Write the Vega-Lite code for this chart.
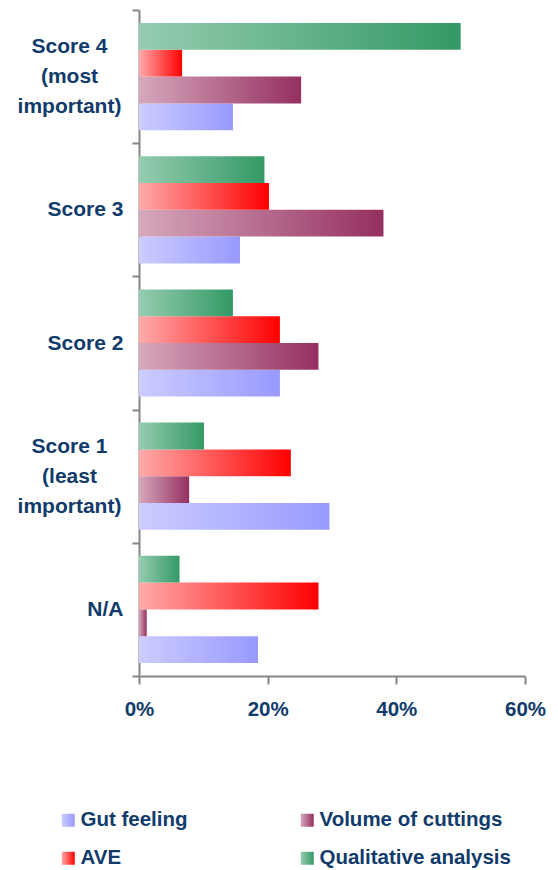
{
  "$schema": "https://vega.github.io/schema/vega-lite/v6.json",
  "width": 386,
  "height": 666,
  "autosize": {"type": "none"},
  "padding": {"left": 139, "top": 10, "right": 33, "bottom": 194},
  "background": "white",
  "data": {
    "values": [
      {"category": "Score 4|(most|important)", "series": "Qualitative analysis", "value": 0.500},
      {"category": "Score 4|(most|important)", "series": "AVE", "value": 0.067},
      {"category": "Score 4|(most|important)", "series": "Volume of cuttings", "value": 0.252},
      {"category": "Score 4|(most|important)", "series": "Gut feeling", "value": 0.146},
      {"category": "Score 3", "series": "Qualitative analysis", "value": 0.195},
      {"category": "Score 3", "series": "AVE", "value": 0.202},
      {"category": "Score 3", "series": "Volume of cuttings", "value": 0.380},
      {"category": "Score 3", "series": "Gut feeling", "value": 0.157},
      {"category": "Score 2", "series": "Qualitative analysis", "value": 0.146},
      {"category": "Score 2", "series": "AVE", "value": 0.219},
      {"category": "Score 2", "series": "Volume of cuttings", "value": 0.279},
      {"category": "Score 2", "series": "Gut feeling", "value": 0.219},
      {"category": "Score 1|(least|important)", "series": "Qualitative analysis", "value": 0.101},
      {"category": "Score 1|(least|important)", "series": "AVE", "value": 0.236},
      {"category": "Score 1|(least|important)", "series": "Volume of cuttings", "value": 0.078},
      {"category": "Score 1|(least|important)", "series": "Gut feeling", "value": 0.296},
      {"category": "N/A", "series": "Qualitative analysis", "value": 0.063},
      {"category": "N/A", "series": "AVE", "value": 0.279},
      {"category": "N/A", "series": "Volume of cuttings", "value": 0.012},
      {"category": "N/A", "series": "Gut feeling", "value": 0.185}
    ]
  },
  "encoding": {
    "y": {
      "field": "category",
      "type": "nominal",
      "sort": ["Score 4|(most|important)", "Score 3", "Score 2", "Score 1|(least|important)", "N/A"],
      "scale": {"paddingInner": 0, "paddingOuter": 0},
      "axis": {
        "title": null,
        "tickBand": "extent",
        "domainColor": "#868686",
        "domainWidth": 2,
        "tickColor": "#868686",
        "tickWidth": 2,
        "tickSize": 7,
        "labelExpr": "split(datum.label, '|')",
        "labelFont": "Liberation Sans",
        "labelFontWeight": "bold",
        "labelFontSize": 21,
        "labelLineHeight": 30,
        "labelColor": "#103B6B",
        "labelBaseline": "middle",
        "labelAlign": {"condition": {"test": "indexof(datum.label, '|') >= 0", "value": "center"}, "value": "right"},
        "labelPadding": {"condition": {"test": "indexof(datum.label, '|') >= 0", "value": 63}, "value": 9},
        "labelOffset": {"condition": {"test": "indexof(datum.label, '|') >= 0", "value": -30}, "value": 0},
        "labelLimit": 300
      }
    },
    "yOffset": {
      "field": "series",
      "type": "nominal",
      "sort": ["Qualitative analysis", "AVE", "Volume of cuttings", "Gut feeling"],
      "scale": {"paddingInner": 0, "paddingOuter": 0.485}
    },
    "x": {
      "field": "value",
      "type": "quantitative",
      "scale": {"domain": [0, 0.6], "nice": false},
      "axis": {
        "title": null,
        "values": [0, 0.2, 0.4, 0.6],
        "format": ".0%",
        "grid": false,
        "domainColor": "#868686",
        "domainWidth": 2,
        "tickColor": "#868686",
        "tickWidth": 2,
        "tickSize": 8,
        "labelFont": "Liberation Sans",
        "labelFontWeight": "bold",
        "labelFontSize": 20.5,
        "labelColor": "#103B6B",
        "labelPadding": 15,
        "labelFlush": false
      }
    }
  },
  "layer": [
    {
      "transform": [{"filter": "datum.series === 'Gut feeling'"}],
      "mark": {"type": "bar", "fill": {"gradient": "linear", "x1": 0, "y1": 0, "x2": 1, "y2": 0, "stops": [{"offset": 0, "color": "#CCCCFF"}, {"offset": 1, "color": "#9999FF"}]}},
      "encoding": {
        "opacity": {
          "datum": "Gut feeling", "type": "nominal", "scale": {"range": [1]},
          "legend": {"title": null, "orient": "none", "legendX": -81, "legendY": 800, "symbolType": "square", "symbolSize": 169, "symbolStrokeWidth": 0, "labelOffset": 2, "labelFont": "Liberation Sans", "labelFontWeight": "bold", "labelFontSize": 20.5, "labelColor": "#103B6B", "labelLimit": 300}
        }
      }
    },
    {
      "transform": [{"filter": "datum.series === 'Volume of cuttings'"}],
      "mark": {"type": "bar", "fill": {"gradient": "linear", "x1": 0, "y1": 0, "x2": 1, "y2": 0, "stops": [{"offset": 0, "color": "#D6A8BC"}, {"offset": 1, "color": "#952F60"}]}},
      "encoding": {
        "opacity": {
          "datum": "Volume of cuttings", "type": "nominal", "scale": {"range": [1]},
          "legend": {"title": null, "orient": "none", "legendX": 158, "legendY": 800, "symbolType": "square", "symbolSize": 169, "symbolStrokeWidth": 0, "labelOffset": 2, "labelFont": "Liberation Sans", "labelFontWeight": "bold", "labelFontSize": 20.5, "labelColor": "#103B6B", "labelLimit": 300}
        }
      }
    },
    {
      "transform": [{"filter": "datum.series === 'AVE'"}],
      "mark": {"type": "bar", "fill": {"gradient": "linear", "x1": 0, "y1": 0, "x2": 1, "y2": 0, "stops": [{"offset": 0, "color": "#FFAAAA"}, {"offset": 1, "color": "#FF0000"}]}},
      "encoding": {
        "opacity": {
          "datum": "AVE", "type": "nominal", "scale": {"range": [1]},
          "legend": {"title": null, "orient": "none", "legendX": -81, "legendY": 838, "symbolType": "square", "symbolSize": 169, "symbolStrokeWidth": 0, "labelOffset": 2, "labelFont": "Liberation Sans", "labelFontWeight": "bold", "labelFontSize": 20.5, "labelColor": "#103B6B", "labelLimit": 300}
        }
      }
    },
    {
      "transform": [{"filter": "datum.series === 'Qualitative analysis'"}],
      "mark": {"type": "bar", "fill": {"gradient": "linear", "x1": 0, "y1": 0, "x2": 1, "y2": 0, "stops": [{"offset": 0, "color": "#96CCB0"}, {"offset": 1, "color": "#339966"}]}},
      "encoding": {
        "opacity": {
          "datum": "Qualitative analysis", "type": "nominal", "scale": {"range": [1]},
          "legend": {"title": null, "orient": "none", "legendX": 158, "legendY": 838, "symbolType": "square", "symbolSize": 169, "symbolStrokeWidth": 0, "labelOffset": 2, "labelFont": "Liberation Sans", "labelFontWeight": "bold", "labelFontSize": 20.5, "labelColor": "#103B6B", "labelLimit": 300}
        }
      }
    }
  ],
  "resolve": {"scale": {"opacity": "independent"}, "legend": {"opacity": "independent"}},
  "config": {"view": {"stroke": null}}
}
